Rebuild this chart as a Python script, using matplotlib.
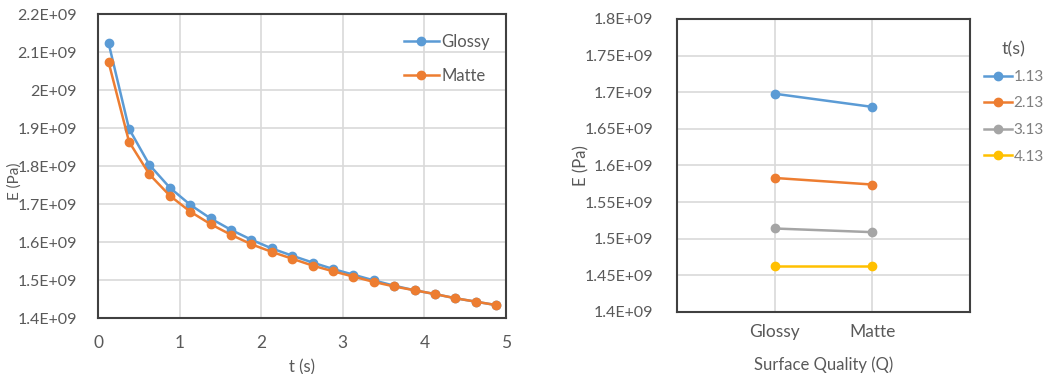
import matplotlib
matplotlib.use("Agg")
import matplotlib.pyplot as plt

plt.rcParams['font.family'] = ['Lato', 'DejaVu Sans']
plt.rcParams['font.size'] = 12

# ---- data
t = [0.13, 0.38, 0.63, 0.88, 1.13, 1.38, 1.63, 1.88, 2.13, 2.38,
     2.63, 2.88, 3.13, 3.38, 3.63, 3.88, 4.13, 4.38, 4.63, 4.88]
glossy = [2.123e9, 1.898e9, 1.803e9, 1.743e9, 1.698e9, 1.662e9, 1.632e9, 1.606e9, 1.583e9, 1.564e9,
          1.546e9, 1.529e9, 1.514e9, 1.499e9, 1.485e9, 1.473e9, 1.463e9, 1.452e9, 1.443e9, 1.434e9]
matte = [2.073e9, 1.864e9, 1.778e9, 1.722e9, 1.680e9, 1.647e9, 1.619e9, 1.594e9, 1.574e9, 1.556e9,
         1.538e9, 1.523e9, 1.509e9, 1.495e9, 1.483e9, 1.473e9, 1.463e9, 1.452e9, 1.443e9, 1.434e9]

surfaces = ['Glossy', 'Matte']
times = ['1.13', '2.13', '3.13', '4.13']
e_by_time = [[1.698e9, 1.680e9],
             [1.583e9, 1.574e9],
             [1.514e9, 1.509e9],
             [1.463e9, 1.463e9]]

left_yticks = [1.4e9, 1.5e9, 1.6e9, 1.7e9, 1.8e9, 1.9e9, 2.0e9, 2.1e9, 2.2e9]
left_ylabels = ['1.4E+09', '1.5E+09', '1.6E+09', '1.7E+09', '1.8E+09', '1.9E+09', '2E+09', '2.1E+09', '2.2E+09']
right_yticks = [1.4e9, 1.45e9, 1.5e9, 1.55e9, 1.6e9, 1.65e9, 1.7e9, 1.75e9, 1.8e9]
right_ylabels = ['1.4E+09', '1.45E+09', '1.5E+09', '1.55E+09', '1.6E+09', '1.65E+09', '1.7E+09', '1.75E+09', '1.8E+09']

blue = '#5B9BD5'
orange = '#ED7D31'
colors = [blue, orange, '#A5A5A5', '#FFC000']
txt = '#595959'
grid = '#D9D9D9'
frame = '#404040'

fig = plt.figure(figsize=(10.45, 3.74), dpi=100)

# ---- left chart
ax1 = fig.add_axes([0.0938, 0.1497, 0.3904, 0.8128])
ax1.plot(t, glossy, color=blue, lw=1.8, marker='o', ms=6, label='Glossy')
ax1.plot(t, matte, color=orange, lw=1.8, marker='o', ms=6, label='Matte')
ax1.set_xlim(0, 5)
ax1.set_ylim(1.4e9, 2.2e9)
ax1.set_xticks([0, 1, 2, 3, 4, 5])
ax1.set_yticks(left_yticks)
ax1.set_yticklabels(left_ylabels)
ax1.grid(True, color=grid, lw=1.2)
ax1.set_axisbelow(True)
ax1.set_xlabel('t (s)', color=txt)
ax1.set_ylabel('E (Pa)', color=txt, fontsize=11)
ax1.xaxis.set_label_coords(0.5, -0.135)
ax1.yaxis.set_label_coords(-0.186, 0.45)
leg1 = ax1.legend(loc='upper left', bbox_to_anchor=(0.713, 0.983), frameon=False,
                  handlelength=2.1, handletextpad=0.15, labelspacing=1.05, fontsize=12)
for tx in leg1.get_texts():
    tx.set_color(txt)

# ---- right chart
ax2 = fig.add_axes([0.6476, 0.1658, 0.2807, 0.7834])
xpos = [1, 2]
for vals, c, lab in zip(e_by_time, colors, times):
    ax2.plot(xpos, vals, color=c, lw=1.8, marker='o', ms=6, label=lab)
ax2.set_xlim(0, 3)
ax2.set_ylim(1.4e9, 1.8e9)
ax2.set_xticks(xpos)
ax2.set_xticklabels(surfaces)
ax2.set_yticks(right_yticks)
ax2.set_yticklabels(right_ylabels)
ax2.grid(True, color=grid, lw=1.2)
ax2.set_axisbelow(True)
ax2.set_xlabel('Surface Quality (Q)', color=txt)
ax2.set_ylabel('E (Pa)', color=txt)
ax2.xaxis.set_label_coords(0.5, -0.152)
ax2.yaxis.set_label_coords(-0.297, 0.5)
leg2 = ax2.legend(loc='upper left', bbox_to_anchor=(0.934, 0.91), bbox_transform=fig.transFigure,
                  frameon=False, title='t(s)', handlelength=1.85, handletextpad=0.1,
                  labelspacing=0.82, fontsize=11, title_fontsize=13, borderpad=0)
leg2.get_title().set_color(txt)
for tx in leg2.get_texts():
    tx.set_color('#7F7F7F')

for ax in (ax1, ax2):
    ax.tick_params(length=0, labelcolor=txt, labelsize=12.5)
    ax.tick_params(axis='y', labelsize=11.5)
    for s in ax.spines.values():
        s.set_color(frame)
        s.set_linewidth(1.5)
ax1.tick_params(axis='x', pad=12)
ax1.tick_params(axis='y', pad=15)
ax2.tick_params(axis='x', pad=9)
ax2.tick_params(axis='y', pad=17)

fig.savefig('out.png', dpi=100)
